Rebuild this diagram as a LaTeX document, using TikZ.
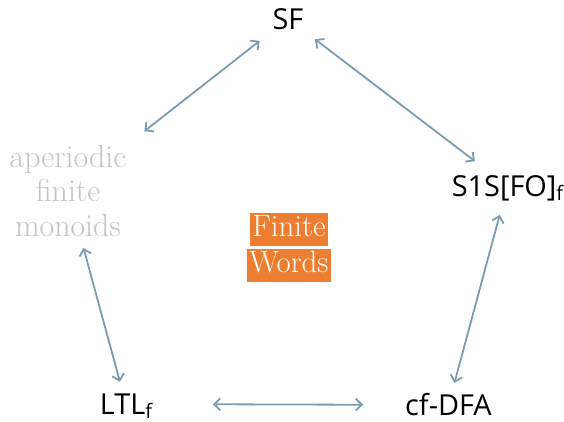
\documentclass[tikz,border=0pt]{standalone}
\usepackage{fontspec}
\newfontfamily\labelsans{Open Sans}
\usetikzlibrary{arrows.meta}
\definecolor{linkblue}{RGB}{122,156,175}
\definecolor{softgray}{RGB}{195,195,195}
\definecolor{hlorange}{RGB}{237,125,49}
\newcommand{\lowf}{\raisebox{-0.14em}{\fontsize{20}{20}\selectfont f}}
\tikzset{
  x=1bp, y=1bp,
  sanslabel/.style={font=\labelsans\fontsize{29}{34}\selectfont, inner sep=0pt,
    text height=20.7bp, text depth=0bp},
  link/.style={draw=linkblue, line width=1.8bp,
    {Straight Barb[length=6bp,width=12bp]}-{Straight Barb[length=6bp,width=12bp]}},
  hl/.style={fill=hlorange, text=white, inner xsep=2bp, inner ysep=0bp,
    text height=24bp, text depth=9.5bp, font=\fontsize{31}{34}\selectfont}
}
\begin{document}
\begin{tikzpicture}
  \useasboundingbox (0,0) rectangle (564,421);
  % the five characterisations
  \node[sanslabel] (sf) at (288,402.3) {SF};
  \node[sanslabel] (s1s) at (507.5,235) {S1S[FO]\lowf};
  \node[sanslabel] (cf) at (448.5,16) {cf-DFA};
  \node[sanslabel] (ltl) at (126,17) {LTL\lowf};
  \node[text=softgray, align=center, inner sep=0pt,
        font=\fontsize{32}{34.5}\selectfont] (ap) at (68,230) {aperiodic\\finite\\monoids};
  % centre caption
  \node[hl] (fin) at (289,191.5) {Finite};
  \node[hl] (wor) at (289,155.5) {Words};
  % equivalences
  \draw[link, shorten <=36bp, shorten >=97bp] (sf.center) -- (ap.center);
  \draw[link, shorten <=34bp, shorten >=41bp] (sf.center) -- (s1s.center);
  \draw[link, shorten <=30bp, shorten >=23bp] (s1s.center) -- (cf.center);
  \draw[link, shorten <=59bp, shorten >=23bp] (ap.center) -- (ltl.center);
  \draw[link, shorten <=87bp, shorten >=85.5bp] (ltl.center) -- (cf.center);
\end{tikzpicture}
\end{document}
